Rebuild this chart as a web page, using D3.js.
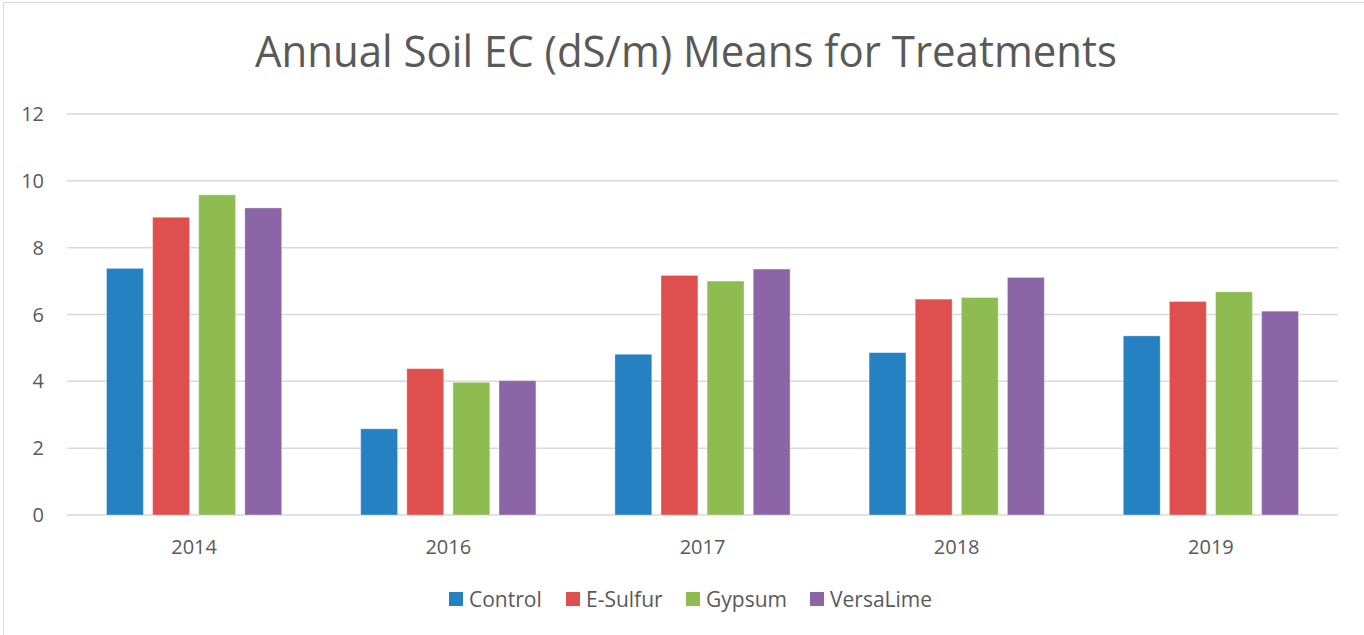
<!DOCTYPE html>
<html>
<head>
<meta charset="utf-8">
<script src="https://cdn.jsdelivr.net/npm/d3@7"></script>
<style>
  body { margin: 0; background: #fff; }
  text { font-family: "Open Sans", sans-serif; fill: #595959; }
</style>
</head>
<body>
<div id="chart"></div>
<script>
var years = ["2014", "2016", "2017", "2018", "2019"];
var treatments = ["Control", "E-Sulfur", "Gypsum", "VersaLime"];
var control   = [7.38, 2.58, 4.81, 4.86, 5.36];
var eSulfur   = [8.91, 4.38, 7.17, 6.46, 6.39];
var gypsum    = [9.58, 3.97, 7.00, 6.51, 6.68];
var versaLime = [9.19, 4.02, 7.36, 7.11, 6.10];
var yTicks = [0, 2, 4, 6, 8, 10, 12];
var colors = ["#2581C2", "#DE4F4D", "#8FBC50", "#8B65A6"];

var seriesValues = [control, eSulfur, gypsum, versaLime];

var width = 1364;
var height = 635;

var svg = d3.select("#chart")
    .append("svg")
    .attr("width", width)
    .attr("height", height);

// chart area border (left / top visible)
svg.append("rect")
    .attr("x", 3.5)
    .attr("y", 2.5)
    .attr("width", width + 10)
    .attr("height", height + 10)
    .attr("fill", "none")
    .attr("stroke", "#D9D9D9");

var plotLeft = 67, plotRight = 1338, plotTop = 114, plotBottom = 515;

var x0 = d3.scaleBand()
    .domain(years)
    .range([plotLeft, plotRight]);

var outer = 39.5;
var x1 = d3.scaleBand()
    .domain(treatments)
    .range([outer, x0.bandwidth() - outer])
    .paddingInner(0.2);

var y = d3.scaleLinear()
    .domain([0, 12])
    .range([plotBottom, plotTop]);

// gridlines
svg.append("g")
    .selectAll("line")
    .data(yTicks)
    .enter()
    .append("line")
    .attr("x1", plotLeft)
    .attr("x2", plotRight)
    .attr("y1", function(d){ return y(d); })
    .attr("y2", function(d){ return y(d); })
    .attr("stroke", "#D9D9D9")
    .attr("stroke-width", 1.5);

// y labels
svg.append("g")
    .selectAll("text")
    .data(yTicks)
    .enter()
    .append("text")
    .attr("x", 44)
    .attr("y", function(d){ return y(d) + 7; })
    .attr("text-anchor", "end")
    .attr("font-size", 20)
    .text(function(d){ return d; });

// bars
var groups = svg.append("g")
    .selectAll("g")
    .data(years)
    .enter()
    .append("g")
    .attr("transform", function(d){ return "translate(" + x0(d) + ",0)"; });

groups.selectAll("rect")
    .data(function(d, i){
        return treatments.map(function(t, j){ return {key: t, idx: j, value: seriesValues[j][i]}; });
    })
    .enter()
    .append("rect")
    .attr("x", function(d){ return x1(d.key); })
    .attr("width", x1.bandwidth())
    .attr("y", function(d){ return y(d.value); })
    .attr("height", function(d){ return y(0) - y(d.value); })
    .attr("fill", function(d){ return colors[d.idx]; })
    .attr("stroke", "#fff")
    .attr("stroke-opacity", 0.35)
    .attr("stroke-width", 1);

// x labels
svg.append("g")
    .selectAll("text")
    .data(years)
    .enter()
    .append("text")
    .attr("x", function(d){ return x0(d) + x0.bandwidth() / 2; })
    .attr("y", 554)
    .attr("text-anchor", "middle")
    .attr("font-size", 20)
    .text(function(d){ return d; });

// title
svg.append("text")
    .attr("x", 686)
    .attr("y", 67)
    .attr("text-anchor", "middle")
    .attr("font-size", 43)
    .attr("textLength", 862)
    .attr("lengthAdjust", "spacingAndGlyphs")
    .text("Annual Soil EC (dS/m) Means for Treatments");

// legend
var legendX = [449, 566, 686, 810];
var legend = svg.append("g")
    .selectAll("g")
    .data(treatments)
    .enter()
    .append("g")
    .attr("transform", function(d, i){ return "translate(" + legendX[i] + ",592)"; });

legend.append("rect")
    .attr("width", 14)
    .attr("height", 14)
    .attr("fill", function(d, i){ return colors[i]; });

legend.append("text")
    .attr("x", 20)
    .attr("y", 14.5)
    .attr("font-size", 21)
    .text(function(d){ return d; });
</script>
</body>
</html>
